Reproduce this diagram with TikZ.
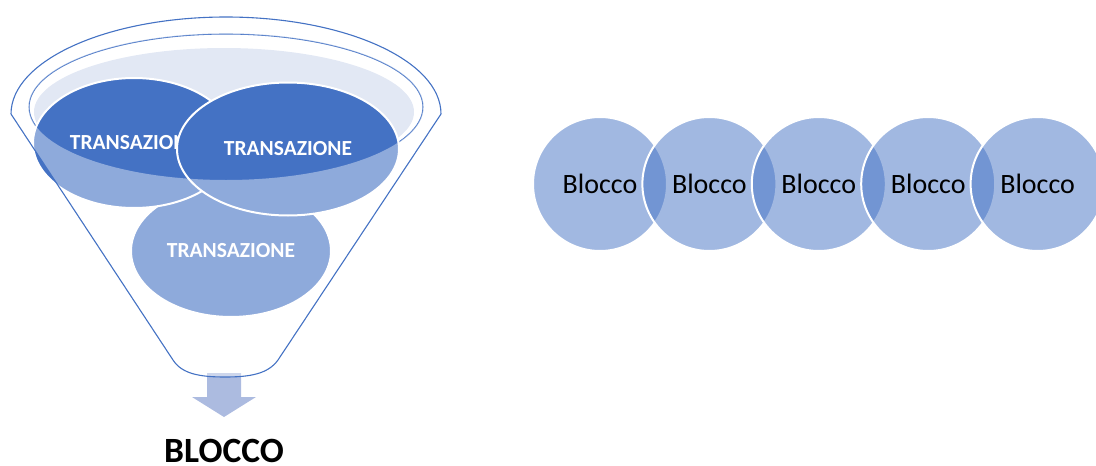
\documentclass[tikz,border=0pt]{standalone}
\usepackage{fontspec}
\setmainfont{Carlito}
\usetikzlibrary{shapes.geometric}
\definecolor{acc}{HTML}{4472C4}
\definecolor{rimfill}{HTML}{E2E8F4}
\definecolor{arrfill}{HTML}{ACBBE0}
\begin{document}
\begin{tikzpicture}[x=1pt,y=-1pt,
  trans/.style={ellipse, draw=white, line width=2pt, fill=acc, text=white,
    font=\fontsize{21.5}{25}\selectfont\bfseries, inner sep=0pt},
  blk/.style={ellipse, minimum width=134pt, minimum height=134pt, fill=acc,
    fill opacity=0.5, text opacity=1, draw=white, draw opacity=1, line width=2pt,
    font=\fontsize{28}{32}\selectfont, inner sep=0pt},
  fline/.style={draw=acc, line width=1.1pt}]
\useasboundingbox (0,0) rectangle (1096,466);
% rim of the funnel
\fill[rimfill] (224,112) ellipse [x radius=190, y radius=64];
\draw[fline] (226,107) ellipse [x radius=197, y radius=73];
% arrow out of the funnel
\fill[arrfill] (207,373) -- (241,373) -- (241,397) -- (256,397) -- (224,417)
  -- (192,397) -- (207,397) -- cycle;
% transactions
\node[trans, minimum width=200pt, minimum height=132pt] (t3) at (231,251) {TRANSAZIONE};
\node[trans, minimum width=202pt, minimum height=130pt] (t1) at (134,143) {TRANSAZIONE};
\node[trans, minimum width=222pt, minimum height=133pt] (t2) at (288,149) {TRANSAZIONE};
% translucent front of the funnel
\fill[white, fill opacity=0.4, even odd rule]
  (11,114) -- (173,360) .. controls (182,374) and (200,377) .. (225,377)
  .. controls (250,377) and (268,374) .. (278,360) -- (441,114)
  arc[start angle=0, end angle=-180, x radius=215, y radius=97] -- cycle
  (226,107) ellipse [x radius=197, y radius=73];
% funnel outline
\draw[fline]
  (11,114) -- (173,360) .. controls (182,374) and (200,377) .. (225,377)
  .. controls (250,377) and (268,374) .. (278,360) -- (441,114)
  arc[start angle=0, end angle=-180, x radius=215, y radius=97];
\node[font=\fontsize{35.5}{40}\selectfont\bfseries, inner sep=0pt] (blocco) at (224,451) {BLOCCO};
% chain of blocks
\foreach \i in {0,...,4}{
  \node[blk] (b\i) at ({600+109.4*\i},184) {Blocco};
}
\end{tikzpicture}
\end{document}
